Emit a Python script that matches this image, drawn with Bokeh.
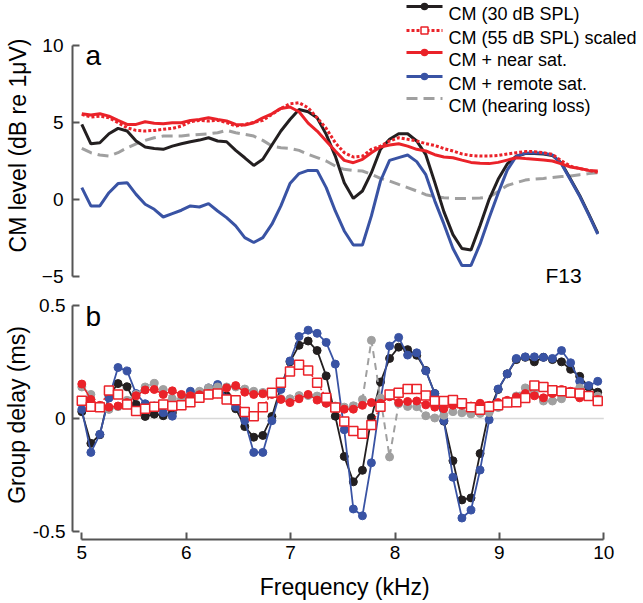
from bokeh.plotting import figure
from bokeh.layouts import column
from bokeh.models import Range1d, FixedTicker, Label
from bokeh.embed import file_html
from bokeh.resources import INLINE

# ---------------- data ----------------
freq_khz = [5.000, 5.087, 5.173, 5.260, 5.347, 5.434, 5.520, 5.607, 5.694, 5.780,
            5.867, 5.954, 6.040, 6.127, 6.214, 6.301, 6.387, 6.474, 6.561, 6.647,
            6.734, 6.821, 6.907, 6.994, 7.081, 7.168, 7.254, 7.341, 7.428, 7.514,
            7.601, 7.688, 7.774, 7.861, 7.948, 8.035, 8.121, 8.208, 8.295, 8.381,
            8.468, 8.555, 8.641, 8.728, 8.815, 8.902, 8.988, 9.075, 9.162, 9.248,
            9.335, 9.422, 9.508, 9.595, 9.682, 9.769, 9.855, 9.942]

# panel a: CM level (dB re 1 uV)
level_30db = [4.87, 3.61, 3.68, 4.26, 4.61, 4.44, 3.79, 3.40, 3.31, 3.25,
              3.46, 3.61, 3.74, 3.85, 4.00, 3.79, 3.74, 3.18, 2.70, 2.20,
              2.60, 3.53, 4.44, 5.19, 5.84, 5.69, 5.30, 4.22, 2.81, 1.08,
              0.06, 0.54, 1.73, 3.25, 3.90, 4.26, 4.26, 3.79, 2.90, 1.10,
              -0.80, -2.30, -3.20, -3.30, -1.70, 0.00, 1.30, 2.30, 2.80, 2.97,
              2.97, 2.95, 2.85, 2.35, 1.30, 0.25, -0.95, -2.20]
level_55db_scaled = [5.52, 5.35, 5.41, 5.30, 4.98, 4.65, 4.48, 4.44, 4.48, 4.55,
                     4.61, 4.76, 5.04, 5.13, 5.09, 5.13, 4.98, 4.76, 4.87, 5.00,
                     5.13, 5.52, 5.91, 6.21, 6.28, 5.95, 5.30, 4.61, 3.68, 3.03,
                     2.75, 2.81, 3.25, 3.46, 3.79, 4.00, 3.90, 3.79, 3.62, 3.50,
                     3.30, 3.14, 2.95, 2.85, 2.81, 2.81, 2.85, 2.95, 3.03, 3.10,
                     3.10, 3.03, 2.92, 2.50, 2.15, 2.00, 1.88, 1.75]
level_near_sat = [5.56, 5.48, 5.56, 5.41, 5.13, 4.87, 4.87, 5.04, 4.94, 4.91,
                  4.98, 4.98, 5.13, 5.19, 5.30, 5.19, 5.09, 4.87, 4.83, 4.98,
                  5.30, 5.56, 5.91, 6.00, 5.69, 4.95, 4.44, 3.79, 3.14, 2.53,
                  2.38, 2.60, 3.03, 3.40, 3.53, 3.61, 3.46, 3.25, 3.14, 2.90,
                  2.75, 2.70, 2.55, 2.40, 2.35, 2.32, 2.40, 2.55, 2.70, 2.65,
                  2.60, 2.55, 2.49, 2.30, 2.10, 2.00, 1.88, 1.84]
level_remote_sat = [0.76, -0.43, -0.43, 0.43, 1.02, 1.08, 0.32, -0.32, -0.65, -1.15,
                    -0.93, -0.71, -0.43, -0.50, -0.28, -0.76, -1.19, -1.73, -2.49, -2.81,
                    -2.49, -1.62, -0.43, 1.02, 1.67, 1.88, 1.88, 0.76, -0.76, -2.06,
                    -2.97, -2.97, -1.08, 1.19, 2.53, 2.71, 2.88, 2.45, 1.60, -0.10,
                    -1.60, -3.20, -4.30, -4.30, -2.90, -1.20, 0.40, 1.90, 2.80, 3.00,
                    3.03, 3.00, 2.88, 2.30, 1.25, 0.20, -1.00, -2.27]
level_hearing_loss = [3.31, 3.03, 2.88, 2.81, 3.03, 3.35, 3.61, 3.83, 4.00, 4.11,
                      4.11, 4.11, 4.18, 4.22, 4.26, 4.33, 4.48, 4.33, 4.22, 4.11,
                      3.83, 3.46, 3.35, 3.31, 3.18, 2.92, 2.71, 2.49, 2.16, 1.95,
                      1.88, 1.84, 1.62, 1.36, 1.19, 0.97, 0.76, 0.54, 0.30, 0.18,
                      0.10, 0.06, 0.06, 0.06, 0.08, 0.15, 0.50, 0.90, 1.08, 1.25,
                      1.32, 1.36, 1.42, 1.48, 1.52, 1.60, 1.67, 1.73]

# panel b: group delay (ms)
gd_30db = [0.030, -0.110, -0.072, 0.100, 0.154, 0.140, 0.062, 0.009, 0.019, 0.012,
           0.025, 0.060, 0.085, 0.100, 0.128, 0.139, 0.100, 0.043, -0.036, -0.083,
           -0.075, 0.009, 0.140, 0.250, 0.323, 0.342, 0.300, 0.188, 0.010, -0.168,
           -0.280, -0.229, 0.003, 0.161, 0.265, 0.315, 0.304, 0.279, 0.212, 0.110,
           -0.012, -0.187, -0.360, -0.351, -0.155, 0.033, 0.128, 0.197, 0.260, 0.270,
           0.250, 0.270, 0.260, 0.250, 0.217, 0.186, 0.139, 0.116]
gd_55db_scaled = [0.078, 0.052, 0.050, 0.123, 0.106, 0.062, 0.033, 0.043, 0.052, 0.062,
                  0.055, 0.058, 0.072, 0.091, 0.106, 0.110, 0.084, 0.080, 0.028, 0.010,
                  0.050, 0.113, 0.158, 0.207, 0.237, 0.212, 0.158, 0.091, 0.048, -0.014,
                  -0.055, -0.068, -0.029, 0.052, 0.106, 0.113, 0.130, 0.130, 0.101, 0.077,
                  0.077, 0.081, 0.067, 0.050, 0.038, 0.052, 0.058, 0.070, 0.072, 0.090,
                  0.145, 0.139, 0.125, 0.120, 0.113, 0.110, 0.099, 0.077]
gd_near_sat = [0.152, 0.084, 0.058, 0.050, 0.055, 0.070, 0.100, 0.126, 0.128, 0.106,
               0.122, 0.106, 0.100, 0.105, 0.110, 0.109, 0.135, 0.145, 0.116, 0.106,
               0.109, 0.106, 0.084, 0.070, 0.087, 0.106, 0.081, 0.067, 0.050, 0.041,
               0.041, 0.058, 0.070, 0.067, 0.096, 0.070, 0.075, 0.077, 0.060, 0.050,
               0.043, 0.058, 0.058, 0.055, 0.067, 0.058, 0.070, 0.080, 0.095, 0.110,
               0.100, 0.091, 0.110, 0.128, 0.120, 0.091, 0.100, 0.084]
gd_remote_sat = [0.040, -0.150, -0.070, 0.090, 0.225, 0.210, 0.110, 0.065, 0.055, 0.025,
                 0.010, 0.070, 0.120, 0.110, 0.135, 0.150, 0.090, 0.052, -0.010, -0.150,
                 -0.150, -0.010, 0.128, 0.254, 0.362, 0.390, 0.376, 0.336, 0.240, -0.050,
                 -0.400, -0.430, -0.196, 0.080, 0.320, 0.358, 0.280, 0.290, 0.210, 0.110,
                 -0.010, -0.260, -0.440, -0.405, -0.228, -0.006, 0.130, 0.197, 0.265, 0.272,
                 0.272, 0.270, 0.265, 0.300, 0.246, 0.164, 0.145, 0.164]
gd_hearing_loss = [0.139, 0.106, 0.052, 0.040, 0.052, 0.080, 0.106, 0.139, 0.155, 0.128,
                   0.087, 0.084, 0.099, 0.120, 0.135, 0.139, 0.139, 0.139, 0.130, 0.120,
                   0.115, 0.109, 0.087, 0.087, 0.101, 0.101, 0.099, 0.067, 0.055, 0.050,
                   0.056, 0.084, 0.345, 0.090, -0.170, 0.065, 0.053, 0.052, 0.012, 0.002,
                   0.014, 0.030, 0.025, 0.020, 0.022, 0.026, 0.048, 0.070, 0.099, 0.135,
                   0.109, 0.077, 0.077, 0.087, 0.110, 0.135, 0.100, 0.099]

x_ticks = [5, 6, 7, 8, 9, 10]
level_ticks = [-5, 0, 5, 10]
gd_ticks = [-0.5, 0, 0.5]
gd_tick_labels = ["-0.5", "0", "0.5"]
legend_labels = ["CM (30 dB SPL)", "CM (55 dB SPL) scaled", "CM + near sat.",
                 "CM + remote sat.", "CM (hearing loss)"]
panel_letters = ["a", "b"]
subject_id = "F13"
y_titles = ["CM level (dB re 1μV)", "Group delay (ms)"]
x_title = "Frequency (kHz)"

# ---------------- style ----------------
FONT = "Liberation Sans"
BLACK = "#231f20"
RED = "#ea2229"
BLUE = "#3953a4"
GRAY = "#a0a0a0"
AXIS = "#555555"

W = 642
LEFT = 72
PX_PER_KHZ = 104.4
X5_PX = 81.3
# both frames span x = 72 .. 642 px (legend text must stay inside the frame)
XR = Range1d(x_ticks[0] - (X5_PX - LEFT) / PX_PER_KHZ,
             x_ticks[0] + (W - X5_PX) / PX_PER_KHZ)


def px_to_khz(px):
    return x_ticks[0] + (px - X5_PX) / PX_PER_KHZ


def style_common(p):
    p.grid.visible = False
    p.outline_line_color = None
    p.background_fill_color = "white"
    p.border_fill_color = "white"


def style_axis(ax, ticks, bounds):
    ax.ticker = FixedTicker(ticks=ticks, minor_ticks=[])
    ax.bounds = bounds
    ax.axis_line_color = AXIS
    ax.axis_line_width = 2
    ax.major_tick_line_color = AXIS
    ax.major_tick_line_width = 2
    ax.major_tick_in = 7
    ax.major_tick_out = 0
    ax.minor_tick_line_color = None
    ax.major_label_text_font = FONT
    ax.major_label_text_font_size = "19px"
    ax.major_label_text_color = "black"
    ax.axis_label_text_font = FONT
    ax.axis_label_text_font_size = "23px"
    ax.axis_label_text_font_style = "normal"
    ax.axis_label_text_color = "black"


def text(p, x, y, s, size, **kw):
    p.add_layout(Label(x=x, y=y, text=s, text_font=FONT, text_font_size=size,
                       text_color="black", **kw))


# ---------------- panel a ----------------
H1 = 290
top_px_per_unit = 15.38
zero_px = 198.8


def px_to_level(py):
    return (zero_px - py) / top_px_per_unit


p1 = figure(width=W, height=H1, x_range=XR,
            y_range=Range1d(px_to_level(H1), px_to_level(0)),
            output_backend="svg", toolbar_location=None, x_axis_location=None,
            min_border_left=LEFT, min_border_right=0, min_border_top=0, min_border_bottom=0)
style_common(p1)
style_axis(p1.yaxis[0], level_ticks, (level_ticks[0], level_ticks[-1]))
p1.yaxis[0].axis_label = y_titles[0]
p1.yaxis[0].major_label_standoff = 9
p1.yaxis[0].axis_label_standoff = 8
p1.yaxis[0].axis_label_text_line_height = 0.8

p1.line(freq_khz, level_hearing_loss, line_color=GRAY, line_width=3, line_dash="11 6")
p1.line(freq_khz, level_30db, line_color=BLACK, line_width=3)
p1.line(freq_khz, level_remote_sat, line_color=BLUE, line_width=3)
p1.line(freq_khz, level_near_sat, line_color=RED, line_width=3)
p1.line(freq_khz, level_55db_scaled, line_color=RED, line_width=3, line_dash="3 2")

# hand-built legend (top right, partly above the axis top)
row_px = [6, 30, 52, 76, 98]
g0, g1, gt = px_to_khz(406), px_to_khz(442), px_to_khz(448)
gm = (g0 + g1) / 2
styles = [
    dict(color=BLACK, dash="solid", marker="circle", fill=BLACK, size=6),
    dict(color=RED, dash="3 2", marker="square", fill="white", size=7),
    dict(color=RED, dash="solid", marker="circle", fill=RED, size=6),
    dict(color=BLUE, dash="solid", marker="circle", fill=BLUE, size=6),
    dict(color=GRAY, dash="11 6", marker=None, fill=None, size=0),
]
for lab, ry, st in zip(legend_labels, row_px, styles):
    yv = px_to_level(ry)
    p1.line([g0, g1], [yv, yv], line_color=st["color"], line_width=3, line_dash=st["dash"])
    if st["marker"]:
        p1.scatter([gm], [yv], marker=st["marker"], size=st["size"], fill_color=st["fill"],
                   line_color=st["color"], line_width=1.5)
    text(p1, gt, px_to_level(ry + 7.5), lab, "18px", text_baseline="alphabetic")

text(p1, px_to_khz(85), px_to_level(55), panel_letters[0], "28px", text_baseline="alphabetic")
text(p1, px_to_khz(545), px_to_level(275), subject_id, "21px", text_baseline="alphabetic")

# ---------------- panel b ----------------
H2 = 312
gd_px_per_unit = 230.0
gd_zero_px = 420


def px_to_gd(py):
    return (gd_zero_px - py) / gd_px_per_unit


p2 = figure(width=W, height=H2, x_range=XR,
            y_range=Range1d(px_to_gd(543), px_to_gd(H1)),
            output_backend="svg", toolbar_location=None,
            min_border_left=LEFT, min_border_right=0, min_border_top=0,
            min_border_bottom=H1 + H2 - 543)
style_common(p2)
style_axis(p2.yaxis[0], gd_ticks, (gd_ticks[0], gd_ticks[-1]))
p2.yaxis[0].major_label_overrides = {t: s for t, s in zip(gd_ticks, gd_tick_labels)}
p2.yaxis[0].axis_label = y_titles[1]
p2.yaxis[0].major_label_standoff = 7
p2.yaxis[0].axis_label_standoff = 0
p2.yaxis[0].axis_label_text_line_height = 0.8
style_axis(p2.xaxis[0], x_ticks, (x_ticks[0], x_ticks[-1]))
# the frame reaches the right edge, so pad the title on its right to centre it under 5..10 kHz
p2.xaxis[0].axis_label = x_title + "\u00a0" * 4
p2.xaxis[0].major_label_standoff = 6
p2.xaxis[0].axis_label_standoff = 12

p2.segment(x0=[x_ticks[0]], x1=[x_ticks[-1]], y0=[0], y1=[0], line_color="#d8d8d8", line_width=1.5)

p2.line(freq_khz, gd_30db, line_color=BLACK, line_width=1.8)
p2.scatter(freq_khz, gd_30db, marker="circle", size=8, fill_color=BLACK, line_color=BLACK)
p2.line(freq_khz, gd_remote_sat, line_color=BLUE, line_width=1.8)
p2.scatter(freq_khz, gd_remote_sat, marker="circle", size=8, fill_color=BLUE, line_color=BLUE)
p2.line(freq_khz, gd_hearing_loss, line_color=GRAY, line_width=2, line_dash="7 5")
p2.scatter(freq_khz, gd_hearing_loss, marker="circle", size=8, fill_color=GRAY, line_color=GRAY)
p2.line(freq_khz, gd_near_sat, line_color=RED, line_width=1.5)
p2.scatter(freq_khz, gd_near_sat, marker="circle", size=8, fill_color=RED, line_color=RED)
p2.line(freq_khz, gd_55db_scaled, line_color=RED, line_width=1.5, line_dash="2 2")
p2.scatter(freq_khz, gd_55db_scaled, marker="square", size=9, fill_color="white",
           line_color=RED, line_width=1.5)

text(p2, px_to_khz(85), px_to_gd(316.7), panel_letters[1], "28px", text_baseline="alphabetic")

layout = column(p1, p2, spacing=0)
open("out.html", "w").write(file_html(layout, INLINE))
